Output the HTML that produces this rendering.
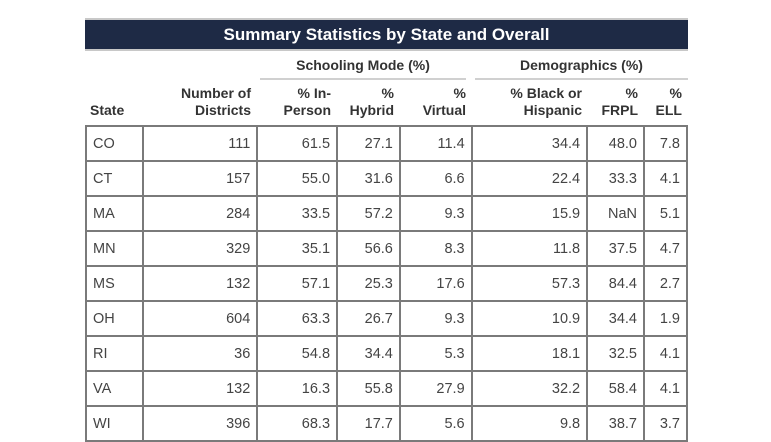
<!DOCTYPE html>
<html><head><meta charset="utf-8">
<style>
html,body{margin:0;padding:0;background:#fff;width:771px;height:426px;overflow:hidden;font-family:"Liberation Sans",sans-serif;}
.wrap{position:absolute;left:85px;top:18px;width:603px;}
.title{height:29px;border-top:2px solid #c8c8c8;border-bottom:2px solid #c8c8c8;background:#1e2a45;color:#fff;font-weight:bold;font-size:17px;text-align:center;line-height:29px;}
.span{position:absolute;top:35px;height:25px;font-weight:bold;font-size:14px;color:#333;text-align:center;line-height:24px;border-bottom:2px solid #d0d0d0;}
.hd{position:absolute;top:67px;font-weight:bold;font-size:14px;color:#333;line-height:17px;text-align:right;}
table{position:absolute;left:0;top:107px;border-collapse:collapse;font-size:14.5px;color:#444;}
td{border:2px solid #7a7a7a;height:35px;padding:0 6px;text-align:right;box-sizing:border-box;}
td:first-child{text-align:left;}
</style></head><body>
<div class="wrap">
<div class="title">Summary Statistics by State and Overall</div>
<div class="span" style="left:175px;width:206px">Schooling Mode (%)</div>
<div class="span" style="left:390px;width:213px">Demographics (%)</div>
<div class="hd" style="left:5px;text-align:left;top:84px">State</div>
<div class="hd" style="right:437px">Number of<br>Districts</div>
<div class="hd" style="right:357px">% In-<br>Person</div>
<div class="hd" style="right:294px">%<br>Hybrid</div>
<div class="hd" style="right:222px">%<br>Virtual</div>
<div class="hd" style="right:106px">% Black or<br>Hispanic</div>
<div class="hd" style="right:50px">%<br>FRPL</div>
<div class="hd" style="right:6px">%<br>ELL</div>
<table id="t">
<colgroup><col style="width:57px"><col style="width:115px"><col style="width:80px"><col style="width:63px"><col style="width:72px"><col style="width:116px"><col style="width:57px"><col style="width:43px"></colgroup>
<tbody id="tb"></tbody></table>
</div>
<script>
const states=["CO","CT","MA","MN","MS","OH","RI","VA","WI"];
const districts=["111","157","284","329","132","604","36","132","396"];
const inPerson=["61.5","55.0","33.5","35.1","57.1","63.3","54.8","16.3","68.3"];
const hybrid=["27.1","31.6","57.2","56.6","25.3","26.7","34.4","55.8","17.7"];
const virtual=["11.4","6.6","9.3","8.3","17.6","9.3","5.3","27.9","5.6"];
const blackHisp=["34.4","22.4","15.9","11.8","57.3","10.9","18.1","32.2","9.8"];
const frpl=["48.0","33.3","NaN","37.5","84.4","34.4","32.5","58.4","38.7"];
const ell=["7.8","4.1","5.1","4.7","2.7","1.9","4.1","4.1","3.7"];
const tb=document.getElementById('tb');
states.forEach((s,i)=>{
  const tr=document.createElement('tr');
  
  
  [s,districts[i],inPerson[i],hybrid[i],virtual[i],blackHisp[i],frpl[i],ell[i]].forEach(v=>{
    const td=document.createElement('td');
    
    
    td.textContent=v;tr.appendChild(td);
  });
  tb.appendChild(tr);
});
</script>
</body></html>
